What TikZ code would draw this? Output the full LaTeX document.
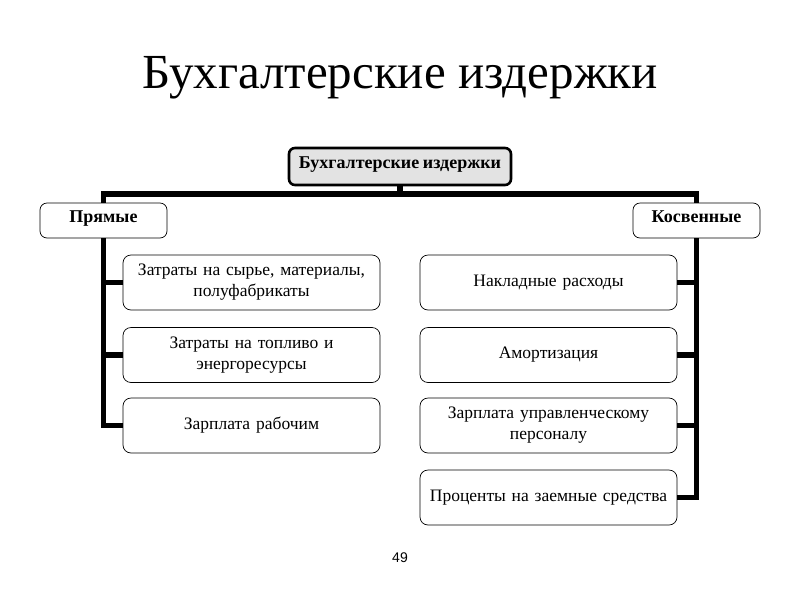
\documentclass[tikz,border=0pt]{standalone}
\usepackage{fontspec}
\setmainfont[WordSpace=0.8]{Liberation Serif}
\newfontfamily\titlefont{Liberation Serif}
\newfontfamily\pagefont{Liberation Sans}
\usetikzlibrary{calc}
\begin{document}
\begin{tikzpicture}[x=1pt,y=-1pt,
  conn/.style={line width=5.5pt},
  rootbox/.style={draw, line width=2.6pt, rounded corners=6pt, fill=gray!22, minimum width=222pt, minimum height=37pt, font=\fontsize{18}{20}\selectfont\bfseries, inner sep=0pt, text height=0.68em, text depth=0.22em},
  catbox/.style={draw, line width=0.7pt, rounded corners=7pt, fill=white, minimum width=127pt, minimum height=35pt, font=\fontsize{18}{20}\selectfont\bfseries, inner sep=0pt, text height=0.68em, text depth=0.22em},
  leafbox/.style={draw, line width=0.7pt, rounded corners=8pt, fill=white, minimum width=257pt, minimum height=55pt, text width=255pt, align=center, font=\fontsize{17.5}{21}\selectfont, inner sep=0pt}]
\useasboundingbox (0,0) rectangle (800,600);
\node (title) at (400,78) {\titlefont\fontsize{49}{52}\selectfont Бухгалтерские издержки};
\node[rootbox] (root) at (400,166.5) {Бухгалтерские издержки};
\node[catbox] (pr) at (103.5,220.5) {Прямые};
\node[catbox] (ko) at (696.5,220.5) {Косвенные};
\node[leafbox] (l1) at (251.5,282.5) {Затраты на сырье, материалы,\\полуфабрикаты};
\node[leafbox] (l2) at (251.5,355) {Затраты на топливо и\\энергоресурсы};
\node[leafbox] (l3) at (251.5,425.5) {Зарплата рабочим};
\node[leafbox] (r1) at (548.5,282.5) {Накладные расходы};
\node[leafbox] (r2) at (548.5,355) {Амортизация};
\node[leafbox] (r3) at (548.5,425.5) {Зарплата управленческому\\персоналу};
\node[leafbox] (r4) at (548.5,497.5) {Проценты на заемные средства};
\node (pg) at (400,558) {\pagefont\fontsize{14}{16}\selectfont 49};
\coordinate (bar) at ($(root.south)+(0,7.5)$);
\draw[conn] (root.south) -- (bar);
\draw[conn] (pr.north) |- (bar) -| (ko.north);
\draw[conn] (pr.south) |- (l3.west);
\draw[conn] (pr.south |- l1.west) -- (l1.west);
\draw[conn] (pr.south |- l2.west) -- (l2.west);
\draw[conn] (ko.south) |- (r4.east);
\draw[conn] (ko.south |- r1.east) -- (r1.east);
\draw[conn] (ko.south |- r2.east) -- (r2.east);
\draw[conn] (ko.south |- r3.east) -- (r3.east);
\end{tikzpicture}
\end{document}
